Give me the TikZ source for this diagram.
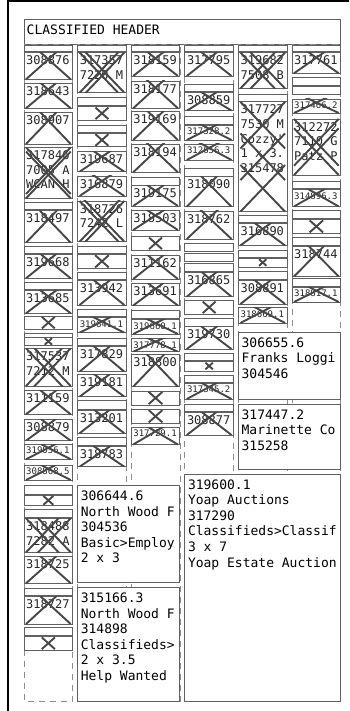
\documentclass[tikz,border=0pt]{standalone}
\usepackage{fontspec}
\newfontfamily\monof{DejaVu Sans Mono}
\newif\iftallx
\begin{document}
\begin{tikzpicture}[x=1pt,y=-1pt,
  bline/.style={draw=black!62, line width=0.9pt, fill=white},
  guide/.style={draw=black!45, line width=0.8pt, dash pattern=on 6pt off 5pt},
  xline/.style={draw=black!72, line width=1.9pt},
  lbl/.style={anchor=north west, inner sep=0pt, align=left, text=black!85, font=\fontsize{12}{14.6}\selectfont\monof},
  slbl/.style={lbl, font=\fontsize{9}{11}\selectfont\monof},
  blbl/.style={anchor=north west, inner sep=0pt, align=left, text=black, font=\fontsize{13}{15.6}\selectfont\monof},
  frame/.style={draw=black, line width=2.3pt}]
\def\cw{48.7}
\pgfmathsetmacro\cc{\cw/2-1}
\newcommand{\br}[3]{\draw[bline] (#1,#2) rectangle (#1+\cw,#3);}
\newcommand{\bx}[6][lbl]{%
  \pgfmathsetmacro\bh{#5-#4}%
  \pgfmathsetmacro\bc{min(0.75*\bh,\cc)}%
  \pgfmathtruncatemacro\ismid{\bh>2*\cw}%
  \draw[bline] (#3,#4) rectangle (#3+\cw,#5);
  \begin{scope}
    \clip (#3,#4) rectangle (#3+\cw,#5);
    \node[#1] (#2) at (#3+2,#4+3) {#6};
    \draw[xline] (#3+2,#5) -- (#3+\cw-2,#5-2*\bc);
    \draw[xline] (#3+\cw-2,#5) -- (#3+2,#5-2*\bc);
    \iftallx
      \draw[xline] (#3+2,#4) -- (#3+\cw-2,#4+2*\cc);
      \draw[xline] (#3+\cw-2,#4) -- (#3+2,#4+2*\cc);
      \ifnum\ismid>0
        \draw[xline] (#3+2,{(#4+#5)/2-\cc}) -- (#3+\cw-2,{(#4+#5)/2+\cc});
        \draw[xline] (#3+\cw-2,{(#4+#5)/2-\cc}) -- (#3+2,{(#4+#5)/2+\cc});
      \fi
    \fi
  \end{scope}}
\newcommand{\bxm}[5]{\tallxtrue\bx{#1}{#2}{#3}{#4}{#5}\tallxfalse}
\newcommand{\xb}[5][0]{%
  \draw[bline] (#3,#4) rectangle (#3+\cw,#5);
  \pgfmathsetmacro\hh{#1>0 ? #1 : (#5-#4)/2-0.9}%
  \pgfmathsetmacro\hw{1.12*\hh}%
  \coordinate (#2) at (#3+\cw/2,{(#4+#5)/2});
  \draw[xline] (#2) ++(-\hw,-\hh) -- ++(2*\hw,2*\hh);
  \draw[xline] (#2) ++(\hw,-\hh) -- ++(-2*\hw,2*\hh);}
\newcommand{\tb}[6]{%
  \draw[bline] (#2,#3) rectangle (#4,#5);
  \begin{scope}
    \clip (#2,#3) rectangle (#4,#5);
    \node[blbl] (#1) at (#2+3,#3+5) {#6};
  \end{scope}}
\useasboundingbox (0,0) rectangle (349,711);
\fill[white] (0,0) rectangle (349,711);
% frame
\draw[frame] (8,0) -- (8,711);
\draw[draw=black, line width=2pt] (7,1) -- (349,1);
% header
\draw[bline] (24,19) rectangle (340.7,44);
\node[blbl] (hdr) at (26.5,25) {CLASSIFIED HEADER};
% column guides
\foreach \l in {24,77.6,131.2,184.8,238.4,292}
  \draw[guide] (\l,44.5) rectangle (\l+\cw,701);
% column 1
\br{24}{45}{51.5}
\bx{n308876}{24}{52.7}{79.3}{308876}
\bx{n318643}{24}{83.3}{108.3}{318643}
\bx{n308907}{24}{112.5}{144}{308907}
\bxm{n317846}{24}{147.3}{198.3}{317846\\7005 A\\WCAN H}
\br{24}{202.3}{209.5}\bx{n318497}{24}{210.3}{242.7}{318497}
\br{24}{246.7}{253.3}\bx{n319668}{24}{254.3}{278.3}{319668}
\br{24}{282.3}{289.8}\bx{n313685}{24}{290.7}{313.3}{313685}
\xb{x1a}{24}{316}{329.3}
\br{24}{333.5}{337.5}\xb[3.3]{x1b}{24}{337.5}{345.3}
\bxm{n317537}{24}{348.3}{386}{317537\\7212 M}
\bx{n311159}{24}{390.7}{414.3}{311159}
\bx{n308879}{24}{419}{440.7}{308879}
\bx[slbl]{n3190561}{24}{444}{459.3}{319056.1}
\bx[slbl]{n3088685}{24}{465}{480}{308868.5}
\br{24}{485.7}{494}\xb{x1c}{24}{495}{505.7}
\br{24}{509.3}{517.5}\bxm{n318488}{24}{518.3}{552.3}{318488\\7282 A}
\bx{n318725}{24}{556.7}{583.3}{318725}
\br{24}{588.3}{595.7}\bx{n318727}{24}{596.7}{624}{318727}
\br{24}{627.7}{635.5}\xb{x1d}{24}{636.5}{650}
% column 2
\br{77.6}{45}{51.5}
\bxm{n317357}{77.6}{52.5}{92.7}{317357\\7220 M}
\br{77.6}{97.7}{105.7}\xb{x2a}{77.6}{106.7}{120}
\br{77.6}{125}{132.5}\xb{x2b}{77.6}{133.3}{146.7}
\bx{n319687}{77.6}{151.7}{171.7}{319687}
\bx{n316879}{77.6}{176}{196}{316879}
\bxm{n318726}{77.6}{201}{241.7}{318726\\7242 L}
\br{77.6}{246.7}{253.3}\xb{x2c}{77.6}{254.3}{268.3}
\br{77.6}{272.3}{279.8}\bx{n313942}{77.6}{280.7}{305}{313942}
\br{77.6}{309.3}{316.7}\bx[slbl]{n3196411}{77.6}{317.7}{332.7}{319641.1}
\br{77.6}{338.3}{345.8}\bx{n317829}{77.6}{346.7}{371.7}{317829}
\bx{n319181}{77.6}{374.5}{396.7}{319181}
\br{77.6}{400.7}{409}\bx{n313201}{77.6}{410}{433.3}{313201}
\br{77.6}{437.3}{445.7}\bx{n318783}{77.6}{446.7}{466.7}{318783}
% column 3
\br{131.2}{45}{51.5}
\bx{n318159}{131.2}{52.5}{76}{318159}
\bx{n318177}{131.2}{81}{108.3}{318177}
\bx{n319169}{131.2}{111.7}{140}{319169}
\bx{n318194}{131.2}{144}{172.3}{318194}
\br{131.2}{177.7}{185}\bx{n319175}{131.2}{185.7}{206}{319175}
\bx{n318503}{131.2}{210.7}{230}{318503}
\xb{x3a}{131.2}{236.7}{250}
\bx{n311162}{131.2}{255.5}{279}{311162}
\bx{n313691}{131.2}{283.3}{305.5}{313691}
\br{131.2}{310.7}{318.3}\bx[slbl]{n3196601}{131.2}{319.5}{334}{319660.1}
\bx[slbl]{n3177781}{131.2}{338.3}{351.7}{317778.1}
\bx{n318800}{131.2}{354.3}{386.7}{318800}
\xb{x3b}{131.2}{391}{405}
\xb{x3c}{131.2}{409.3}{423.3}
\bx[slbl]{n3177291}{131.2}{427}{444.5}{317729.1}
% column 4
\br{184.8}{45}{51.5}
\bx{n317795}{184.8}{52.5}{76}{317795}
\br{184.8}{84.3}{91.5}\bx{n308859}{184.8}{92.3}{110.7}{308859}
\br{184.8}{116.7}{124}\bx[slbl]{n3173282}{184.8}{125}{140}{317328.2}
\bx[slbl]{n3126563}{184.8}{144}{160}{312656.3}
\br{184.8}{168.3}{176}\bx{n318090}{184.8}{176.7}{206.7}{318090}
\bx{n318762}{184.8}{211}{239}{318762}
\br{184.8}{243.5}{251}\br{184.8}{253}{261.5}\br{184.8}{263.3}{271}
\bx{n316865}{184.8}{272}{296.7}{316865}
\xb{x4a}{184.8}{300.7}{314}
\br{184.8}{318.3}{326}\bx{n319730}{184.8}{326.7}{349}{319730}
\br{184.8}{353}{360}\xb[3.3]{x4b}{184.8}{361}{371}
\br{184.8}{375}{382}\bx[slbl]{n3173452}{184.8}{383}{399}{317345.2}
\br{184.8}{404}{411}\bx{n308877}{184.8}{412}{435}{308877}
% column 5
\br{238.4}{45}{51.5}
\bxm{n319682}{238.4}{52.5}{88.5}{319682\\7508 B}
\br{238.4}{94.5}{101}\bxm{n317727}{238.4}{101.8}{211.7}{317727\\7530 M\\Cozzy'\\1 x 3.\\315478}
\br{238.4}{215}{222.5}\bx{n316890}{238.4}{223.5}{245.5}{316890}
\br{238.4}{250}{257}\xb[3.3]{x5a}{238.4}{258}{267}
\br{238.4}{271.7}{279.8}\bx{n308891}{238.4}{280.7}{304}{308891}
\bx[slbl]{n3186691}{238.4}{307.5}{323}{318669.1}
% column 6
\br{292}{45}{51.5}
\bx{n317761}{292}{52.5}{73.3}{317761}
\br{292}{77.5}{85.5}\br{292}{86.5}{94}
\bx[slbl]{n3174662}{292}{99}{113}{317466.2}
\bxm{n312272}{292}{119}{175}{312272\\7110 G\\Patz P}
\br{292}{181}{188.3}\bx[slbl]{n3148963}{292}{189.5}{206.5}{314896.3}
\br{292}{210.7}{218.3}\xb{x6a}{292}{219.5}{233.3}
\br{292}{237.7}{245.3}\bx{n318744}{292}{246.3}{276.5}{318744}
\br{292}{278.5}{286}\bx[slbl]{n3188171}{292}{287}{302}{318817.1}
% large boxes
\tb{t306655}{238.4}{332.3}{340.7}{399.3}{306655.6\\Franks Loggi\\304546}
\tb{t317447}{238.4}{404.3}{340.7}{469}{317447.2\\Marinette Co\\315258}
\tb{t319600}{184.8}{474.3}{340.7}{701}{319600.1\\Yoap Auctions\\317290\\Classifieds>Classif\\3 x 7\\Yoap Estate Auction}
\tb{t306644}{77.6}{485.7}{179.9}{582.3}{306644.6\\North Wood F\\304536\\Basic>Employ\\2 x 3}
\tb{t315166}{77.6}{587.7}{179.9}{701}{315166.3\\North Wood F\\314898\\Classifieds>\\2 x 3.5\\Help Wanted}
\end{tikzpicture}
\end{document}
